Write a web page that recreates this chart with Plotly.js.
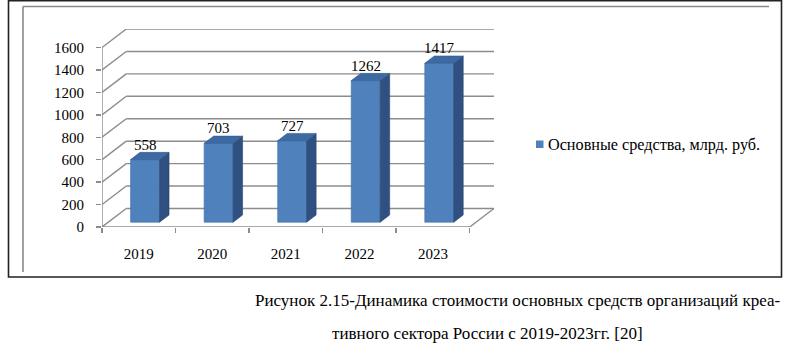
<!DOCTYPE html>
<html><head><meta charset="utf-8">
<script src="https://cdn.plot.ly/plotly-3.0.1.min.js"></script>
<style>html,body{margin:0;padding:0;background:#fff}</style>
</head><body><div id="chart" style="width:800px;height:356px"></div>
<script>
// ---- data ----
var categories = ['2019', '2020', '2021', '2022', '2023'];
var values = [558, 703, 727, 1262, 1417];
var yTicks = [0, 200, 400, 600, 800, 1000, 1200, 1400, 1600];
var seriesName = 'Основные средства, млрд. руб.';
var captionLines = ['Рисунок 2.15-Динамика стоимости основных средств организаций креа-',
                    'тивного сектора России с 2019-2023гг. [20]'];

// ---- geometry / style ----
var FIG_W = 800, FIG_H = 356;
var ML = 102, MR = 306, MT = 29, MB = 129;
var PW = FIG_W - ML - MR, PH = FIG_H - MT - MB;
var YMAX = 1600;
var DX = 0.33, DY = 165;          // depth of the pseudo-3D box, in axis units
var F1 = 0.26, F2 = 0.65;         // bar front / back depth fractions
var BW = 0.394;                   // bar width in category units
var FONT = 'Liberation Serif, Times New Roman, DejaVu Serif, serif';
var GRID = '#8c8c8c';
var FRONT = '#4f81bd', SIDE = '#2f5080', TOP = '#3d6aa3';

function px2x(px){ return (px - ML) / PW; }
function py2y(py){ return 1 - (py - MT) / PH; }

var shapes = [];
function line(x0,y0,x1,y1,color,w,ref){
  shapes.push({type:'line', xref:ref?'paper':'x', yref:ref?'paper':'y', x0:x0,y0:y0,x1:x1,y1:y1,
    line:{color:color,width:w}, layer:'below'});
}
// back wall gridlines and left wall diagonals
yTicks.forEach(function(v){
  line(-0.5+DX, v+DY, categories.length-0.5+DX, v+DY, GRID, 1.4);
  line(-0.5, v, -0.5+DX, v+DY, GRID, 1.4);
});
// floor front edge and right edge
var XE = categories.length - 0.5;
line(-0.5, 0, XE, 0, GRID, 1.4);
line(XE, 0, XE+DX, DY, GRID, 1.4);
// front vertical axis
line(-0.5, 0, -0.5, YMAX, GRID, 1.4);

// 3D faces of bars
var base = F1*DY;
var ddx = (F2-F1)*DX, ddy = (F2-F1)*DY;
values.forEach(function(v,i){
  var xc = i + F1*DX, xl = xc - BW/2, xr = xc + BW/2, top = base + v;
  shapes.push({type:'path', xref:'x', yref:'y', layer:'above',
    path:'M'+xr+','+base+' L'+(xr+ddx)+','+(base+ddy)+' L'+(xr+ddx)+','+(top+ddy)+' L'+xr+','+top+' Z',
    fillcolor:SIDE, line:{color:'#2a4870', width:0.6}});
  shapes.push({type:'path', xref:'x', yref:'y', layer:'above',
    path:'M'+xl+','+top+' L'+(xl+ddx)+','+(top+ddy)+' L'+(xr+ddx)+','+(top+ddy)+' L'+xr+','+top+' Z',
    fillcolor:TOP, line:{color:'#335c90', width:0.6}});
});

// frames (paper coordinates from pixels)
shapes.push({type:'rect', xref:'paper', yref:'paper', x0:px2x(8.5), x1:px2x(781.5), y0:py2y(0.8), y1:py2y(277),
  line:{color:'#222', width:1.6}, layer:'below'});
line(px2x(23), py2y(6.5), px2x(769), py2y(6.5), '#8a8a8a', 1.6, true);
line(px2x(23), py2y(6.5), px2x(23), py2y(272), '#8a8a8a', 1.6, true);

// legend (manual)
shapes.push({type:'rect', xref:'paper', yref:'paper', x0:px2x(536), x1:px2x(543.5), y0:py2y(148), y1:py2y(140.5),
  fillcolor:FRONT, line:{width:0}});

var annotations = [];
annotations.push({xref:'paper', yref:'paper', x:px2x(546), y:py2y(145), xanchor:'left', yanchor:'middle',
  text:seriesName, showarrow:false, font:{family:FONT, size:16.2, color:'#000'}});

// data labels
values.forEach(function(v,i){
  annotations.push({x:i + F1*DX, y:base+v, xref:'x', yref:'y', text:String(v), showarrow:false,
    yanchor:'bottom', yshift:5, font:{family:FONT, size:15, color:'#000'}});
});

// caption
annotations.push({xref:'paper', yref:'paper', x:px2x(253), y:py2y(300), xanchor:'left', yanchor:'middle',
  text:captionLines[0], showarrow:false, font:{family:FONT, size:17, color:'#000'}});
annotations.push({xref:'paper', yref:'paper', x:px2x(330), y:py2y(333), xanchor:'left', yanchor:'middle',
  text:captionLines[1], showarrow:false, font:{family:FONT, size:17, color:'#000'}});

var trace = {
  type:'bar', x:categories, y:values, base:base, width:BW, offset:F1*DX - BW/2,
  marker:{color:FRONT, line:{color:'#3f6ea8', width:0.6}},
  name:seriesName, showlegend:false, hoverinfo:'x+text', hovertext:values.map(String)
};

var layout = {
  width:FIG_W, height:FIG_H,
  margin:{l:ML, r:MR, t:MT, b:MB, pad:0},
  paper_bgcolor:'#fff', plot_bgcolor:'rgba(0,0,0,0)',
  showlegend:false,
  xaxis:{type:'category', range:[-0.5, XE+DX], tickson:'boundaries', ticks:'outside', ticklen:5,
    tickcolor:GRID, tickwidth:1.4, showgrid:false, showline:false, zeroline:false,
    ticklabelstandoff:16, tickfont:{family:FONT, size:15, color:'#000'}, fixedrange:true},
  yaxis:{range:[0, YMAX+DY], tickvals:yTicks, ticks:'outside', ticklen:5, tickcolor:GRID, tickwidth:1.4,
    showgrid:false, showline:false, zeroline:false, ticklabelstandoff:9,
    tickfont:{family:FONT, size:15, color:'#000'}, fixedrange:true},
  shapes:shapes, annotations:annotations
};
Plotly.newPlot('chart', [trace], layout, {displayModeBar:false, staticPlot:true});
</script></body></html>
